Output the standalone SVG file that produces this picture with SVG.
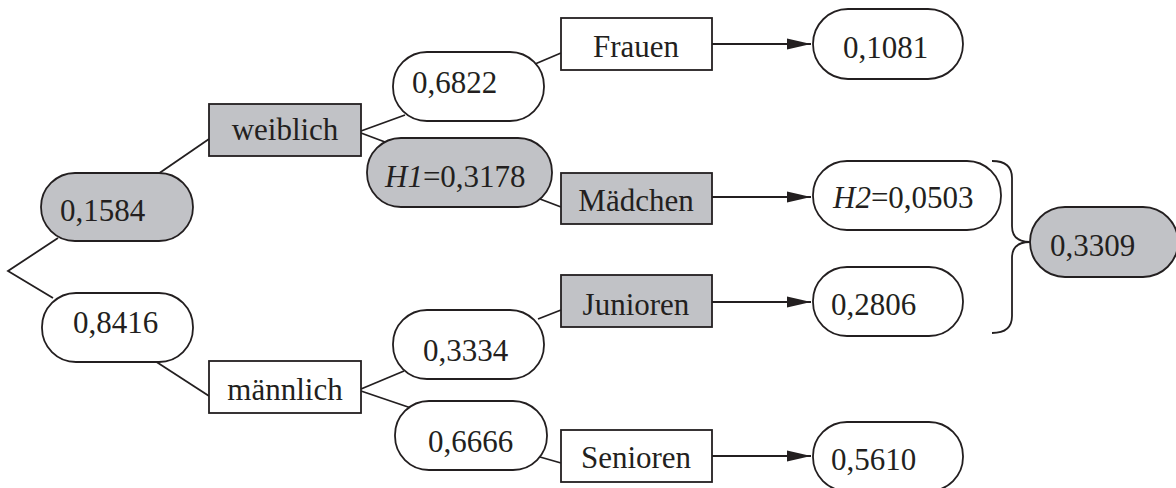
<svg xmlns="http://www.w3.org/2000/svg" width="1176" height="488" viewBox="0 0 1176 488">
<defs>
<style>
.n{fill:#ffffff;stroke:#231f20;stroke-width:1.8}
.g{fill:#c1c2c6;stroke:#231f20;stroke-width:1.8}
.t{font-family:"Liberation Serif","Times New Roman",serif;font-size:31px;fill:#231f20}
.m{text-anchor:middle}
.c{fill:none;stroke:#231f20;stroke-width:1.8}
</style>
<marker id="ah" markerWidth="25" markerHeight="12" refX="24" refY="6" orient="auto" markerUnits="userSpaceOnUse">
<path d="M0,0.5 L24,6 L0,11.5 Z" fill="#231f20"/>
</marker>
</defs>
<rect width="1176" height="488" fill="#ffffff"/>
<g id="connectors" class="c">
<polyline points="58,238 8,271 53,298"/>
<line x1="158" y1="174" x2="209" y2="139"/>
<line x1="155" y1="361" x2="209" y2="396"/>
<line x1="361" y1="131" x2="405" y2="115"/>
<line x1="361" y1="133" x2="385" y2="142"/>
<line x1="361" y1="389" x2="404" y2="371"/>
<line x1="361" y1="391" x2="411" y2="408"/>
<line x1="535" y1="64" x2="561" y2="53"/>
<line x1="540" y1="199" x2="561" y2="207"/>
<line x1="538" y1="319" x2="561" y2="310"/>
<line x1="540" y1="457" x2="561" y2="463"/>
<line x1="712" y1="44" x2="811" y2="44" marker-end="url(#ah)"/>
<line x1="712" y1="197" x2="811" y2="197" marker-end="url(#ah)"/>
<line x1="712" y1="302" x2="811" y2="302" marker-end="url(#ah)"/>
<line x1="712" y1="456" x2="811" y2="456" marker-end="url(#ah)"/>
<path d="M992,161 Q1012,161 1012,178 L1012,226 Q1012,242 1030,242 Q1012,242 1012,258 L1012,316 Q1012,333 992,333"/>
</g>
<g id="n0_1584"><rect class="g" x="41" y="173" width="152" height="68" rx="34"/><text class="t" x="60" y="221">0,1584</text></g>
<g id="n0_8416"><rect class="n" x="42" y="293" width="151" height="69" rx="34"/><text class="t" x="73" y="333">0,8416</text></g>
<g id="weiblich"><rect class="g" x="209" y="104" width="152" height="52"/><text class="t m" x="285" y="140">weiblich</text></g>
<g id="maennlich"><rect class="n" x="209" y="361" width="152" height="52"/><text class="t m" x="285" y="400">männlich</text></g>
<g id="n0_6822"><rect class="n" x="393" y="52" width="151" height="69" rx="34"/><text class="t" x="412" y="93">0,6822</text></g>
<g id="h1"><rect class="g" x="367" y="138" width="185" height="69" rx="34"/><text class="t" x="385" y="187"><tspan font-style="italic">H1</tspan>=0,3178</text></g>
<g id="n0_3334"><rect class="n" x="393" y="310" width="151" height="69" rx="34"/><text class="t" x="423" y="361">0,3334</text></g>
<g id="n0_6666"><rect class="n" x="395" y="401" width="152" height="69" rx="34"/><text class="t" x="428" y="452">0,6666</text></g>
<g id="frauen"><rect class="n" x="561" y="18" width="151" height="52"/><text class="t m" x="636" y="57">Frauen</text></g>
<g id="maedchen"><rect class="g" x="561" y="173" width="151" height="51"/><text class="t m" x="636" y="211">Mädchen</text></g>
<g id="junioren"><rect class="g" x="561" y="275" width="151" height="52"/><text class="t m" x="636" y="315">Junioren</text></g>
<g id="senioren"><rect class="n" x="561" y="430" width="151" height="52"/><text class="t m" x="636" y="468">Senioren</text></g>
<g id="n0_1081"><rect class="n" x="813" y="9" width="150" height="70" rx="35"/><text class="t" x="843" y="58">0,1081</text></g>
<g id="h2"><rect class="n" x="813" y="161" width="188" height="69" rx="34"/><text class="t" x="833" y="208"><tspan font-style="italic">H2</tspan>=0,0503</text></g>
<g id="n0_2806"><rect class="n" x="813" y="267" width="150" height="69" rx="34"/><text class="t" x="831" y="315">0,2806</text></g>
<g id="n0_5610"><rect class="n" x="813" y="422" width="150" height="69" rx="34"/><text class="t" x="831" y="470">0,5610</text></g>
<g id="n0_3309"><rect class="g" x="1030" y="207" width="148" height="70" rx="35"/><text class="t" x="1050" y="256">0,3309</text></g>
</svg>
